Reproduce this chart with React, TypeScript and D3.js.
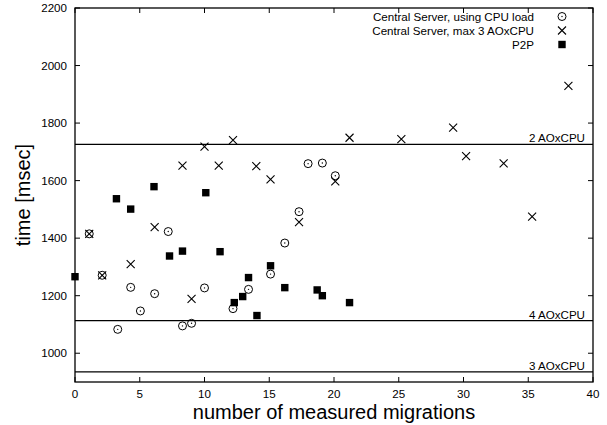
import React from 'react';
import * as d3 from 'd3';

// CPU-load based central server
const cpuX = [1.1, 2.1, 3.3, 4.3, 5.05, 6.15, 7.2, 8.3, 9.0, 10.0, 12.2, 13.4, 15.1, 16.2, 17.3, 18.0, 19.1, 20.1];
const cpuY = [1415, 1271, 1083, 1229, 1147, 1207, 1423, 1095, 1104, 1227, 1155, 1222, 1275, 1383, 1492, 1659, 1661, 1617];

// central server, max 3 AO per CPU
const maxX = [1.1, 2.1, 4.3, 6.15, 8.3, 9.0, 10.0, 11.1, 12.2, 14.0, 15.1, 17.3, 20.1, 21.2, 25.2, 29.2, 30.2, 33.1, 35.3, 38.1];
const maxY = [1415, 1271, 1310, 1438, 1652, 1189, 1718, 1652, 1741, 1650, 1604, 1456, 1597, 1749, 1744, 1784, 1685, 1660, 1475, 1929];

// P2P
const p2pX = [0, 3.2, 4.3, 6.1, 7.3, 8.3, 10.1, 11.2, 12.3, 12.95, 13.4, 14.05, 15.1, 16.2, 18.7, 19.1, 21.2];
const p2pY = [1266, 1537, 1501, 1579, 1338, 1355, 1558, 1353, 1176, 1197, 1263, 1131, 1304, 1228, 1220, 1200, 1176];

// reference lines
const refLabels = ['2 AOxCPU', '4 AOxCPU', '3 AOxCPU'];
const refValues = [1726, 1113, 935];

const xTicks = [0, 5, 10, 15, 20, 25, 30, 35, 40];
const yTicks = [1000, 1200, 1400, 1600, 1800, 2000, 2200];
const legendLabels = ['Central Server, using CPU load', 'Central Server, max 3 AOxCPU', 'P2P'];

const W = 607;
const H = 425;
const margin = { left: 75, right: 14, top: 8, bottom: 43 };
const font = '"Liberation Sans", Arial, Helvetica, sans-serif';
const fs = 11.6;

const Circle = ({ x, y }: { x: number; y: number }) => (
  <g>
    <circle cx={x} cy={y} r={4} fill="none" stroke="#000" strokeWidth={1} />
    <circle cx={x} cy={y} r={0.7} fill="#000" />
  </g>
);

const Cross = ({ x, y }: { x: number; y: number }) => (
  <path d={`M${x - 4},${y - 4}L${x + 4},${y + 4}M${x - 4},${y + 4}L${x + 4},${y - 4}`} stroke="#000" strokeWidth={1.1} />
);

const Square = ({ x, y }: { x: number; y: number }) => (
  <rect x={x - 3.7} y={y - 3.7} width={7.4} height={7.4} fill="#000" />
);

export default function App() {
  const x = d3.scaleLinear().domain([0, 40]).range([margin.left, W - margin.right]);
  const y = d3.scaleLinear().domain([900, 2200]).range([H - margin.bottom, margin.top]);
  const [x0, x1] = x.range();
  const [y0, y1] = y.range();

  return (
    <svg width={W} height={H} style={{ position: 'absolute', left: 0, top: 0, background: '#fff' }} fontFamily={font}>
      {/* frame */}
      <rect x={x0} y={y1} width={x1 - x0} height={y0 - y1} fill="none" stroke="#000" strokeWidth={1.3} />

      {/* ticks */}
      {xTicks.map(t => (
        <g key={'x' + t}>
          <line x1={x(t)} x2={x(t)} y1={y0} y2={y0 - 5} stroke="#000" />
          <line x1={x(t)} x2={x(t)} y1={y1} y2={y1 + 5} stroke="#000" />
          <text x={x(t)} y={y0 + 16} textAnchor="middle" fontSize={fs}>{t}</text>
        </g>
      ))}
      {yTicks.map(t => (
        <g key={'y' + t}>
          <line x1={x0} x2={x0 + 5} y1={y(t)} y2={y(t)} stroke="#000" />
          <line x1={x1} x2={x1 - 5} y1={y(t)} y2={y(t)} stroke="#000" />
          <text x={x0 - 8} y={y(t) + 4} textAnchor="end" fontSize={fs}>{t}</text>
        </g>
      ))}

      {/* reference lines */}
      {refValues.map((v, i) => (
        <g key={'r' + i}>
          <line x1={x0} x2={x1} y1={y(v)} y2={y(v)} stroke="#000" strokeWidth={1.2} />
          <text x={x1 - 8} y={y(v) - 2} textAnchor="end" fontSize={fs}>{refLabels[i]}</text>
        </g>
      ))}

      {/* data */}
      {p2pX.map((v, i) => <Square key={'s' + i} x={x(v)} y={y(p2pY[i])} />)}
      {cpuX.map((v, i) => <Circle key={'c' + i} x={x(v)} y={y(cpuY[i])} />)}
      {maxX.map((v, i) => <Cross key={'m' + i} x={x(v)} y={y(maxY[i])} />)}

      {/* legend */}
      {legendLabels.map((l, i) => {
        const ly = 16.5 + i * 14;
        return (
          <g key={'l' + i}>
            <text x={534} y={ly + 4} textAnchor="end" fontSize={fs}>{l}</text>
            {i === 0 && <Circle x={562} y={ly} />}
            {i === 1 && <Cross x={562} y={ly} />}
            {i === 2 && <Square x={562} y={ly} />}
          </g>
        );
      })}

      {/* axis titles */}
      <text x={(x0 + x1) / 2} y={419} textAnchor="middle" fontSize={20}>number of measured migrations</text>
      <text transform={`translate(30,${(y0 + y1) / 2}) rotate(-90)`} textAnchor="middle" fontSize={20}>time [msec]</text>
    </svg>
  );
}
